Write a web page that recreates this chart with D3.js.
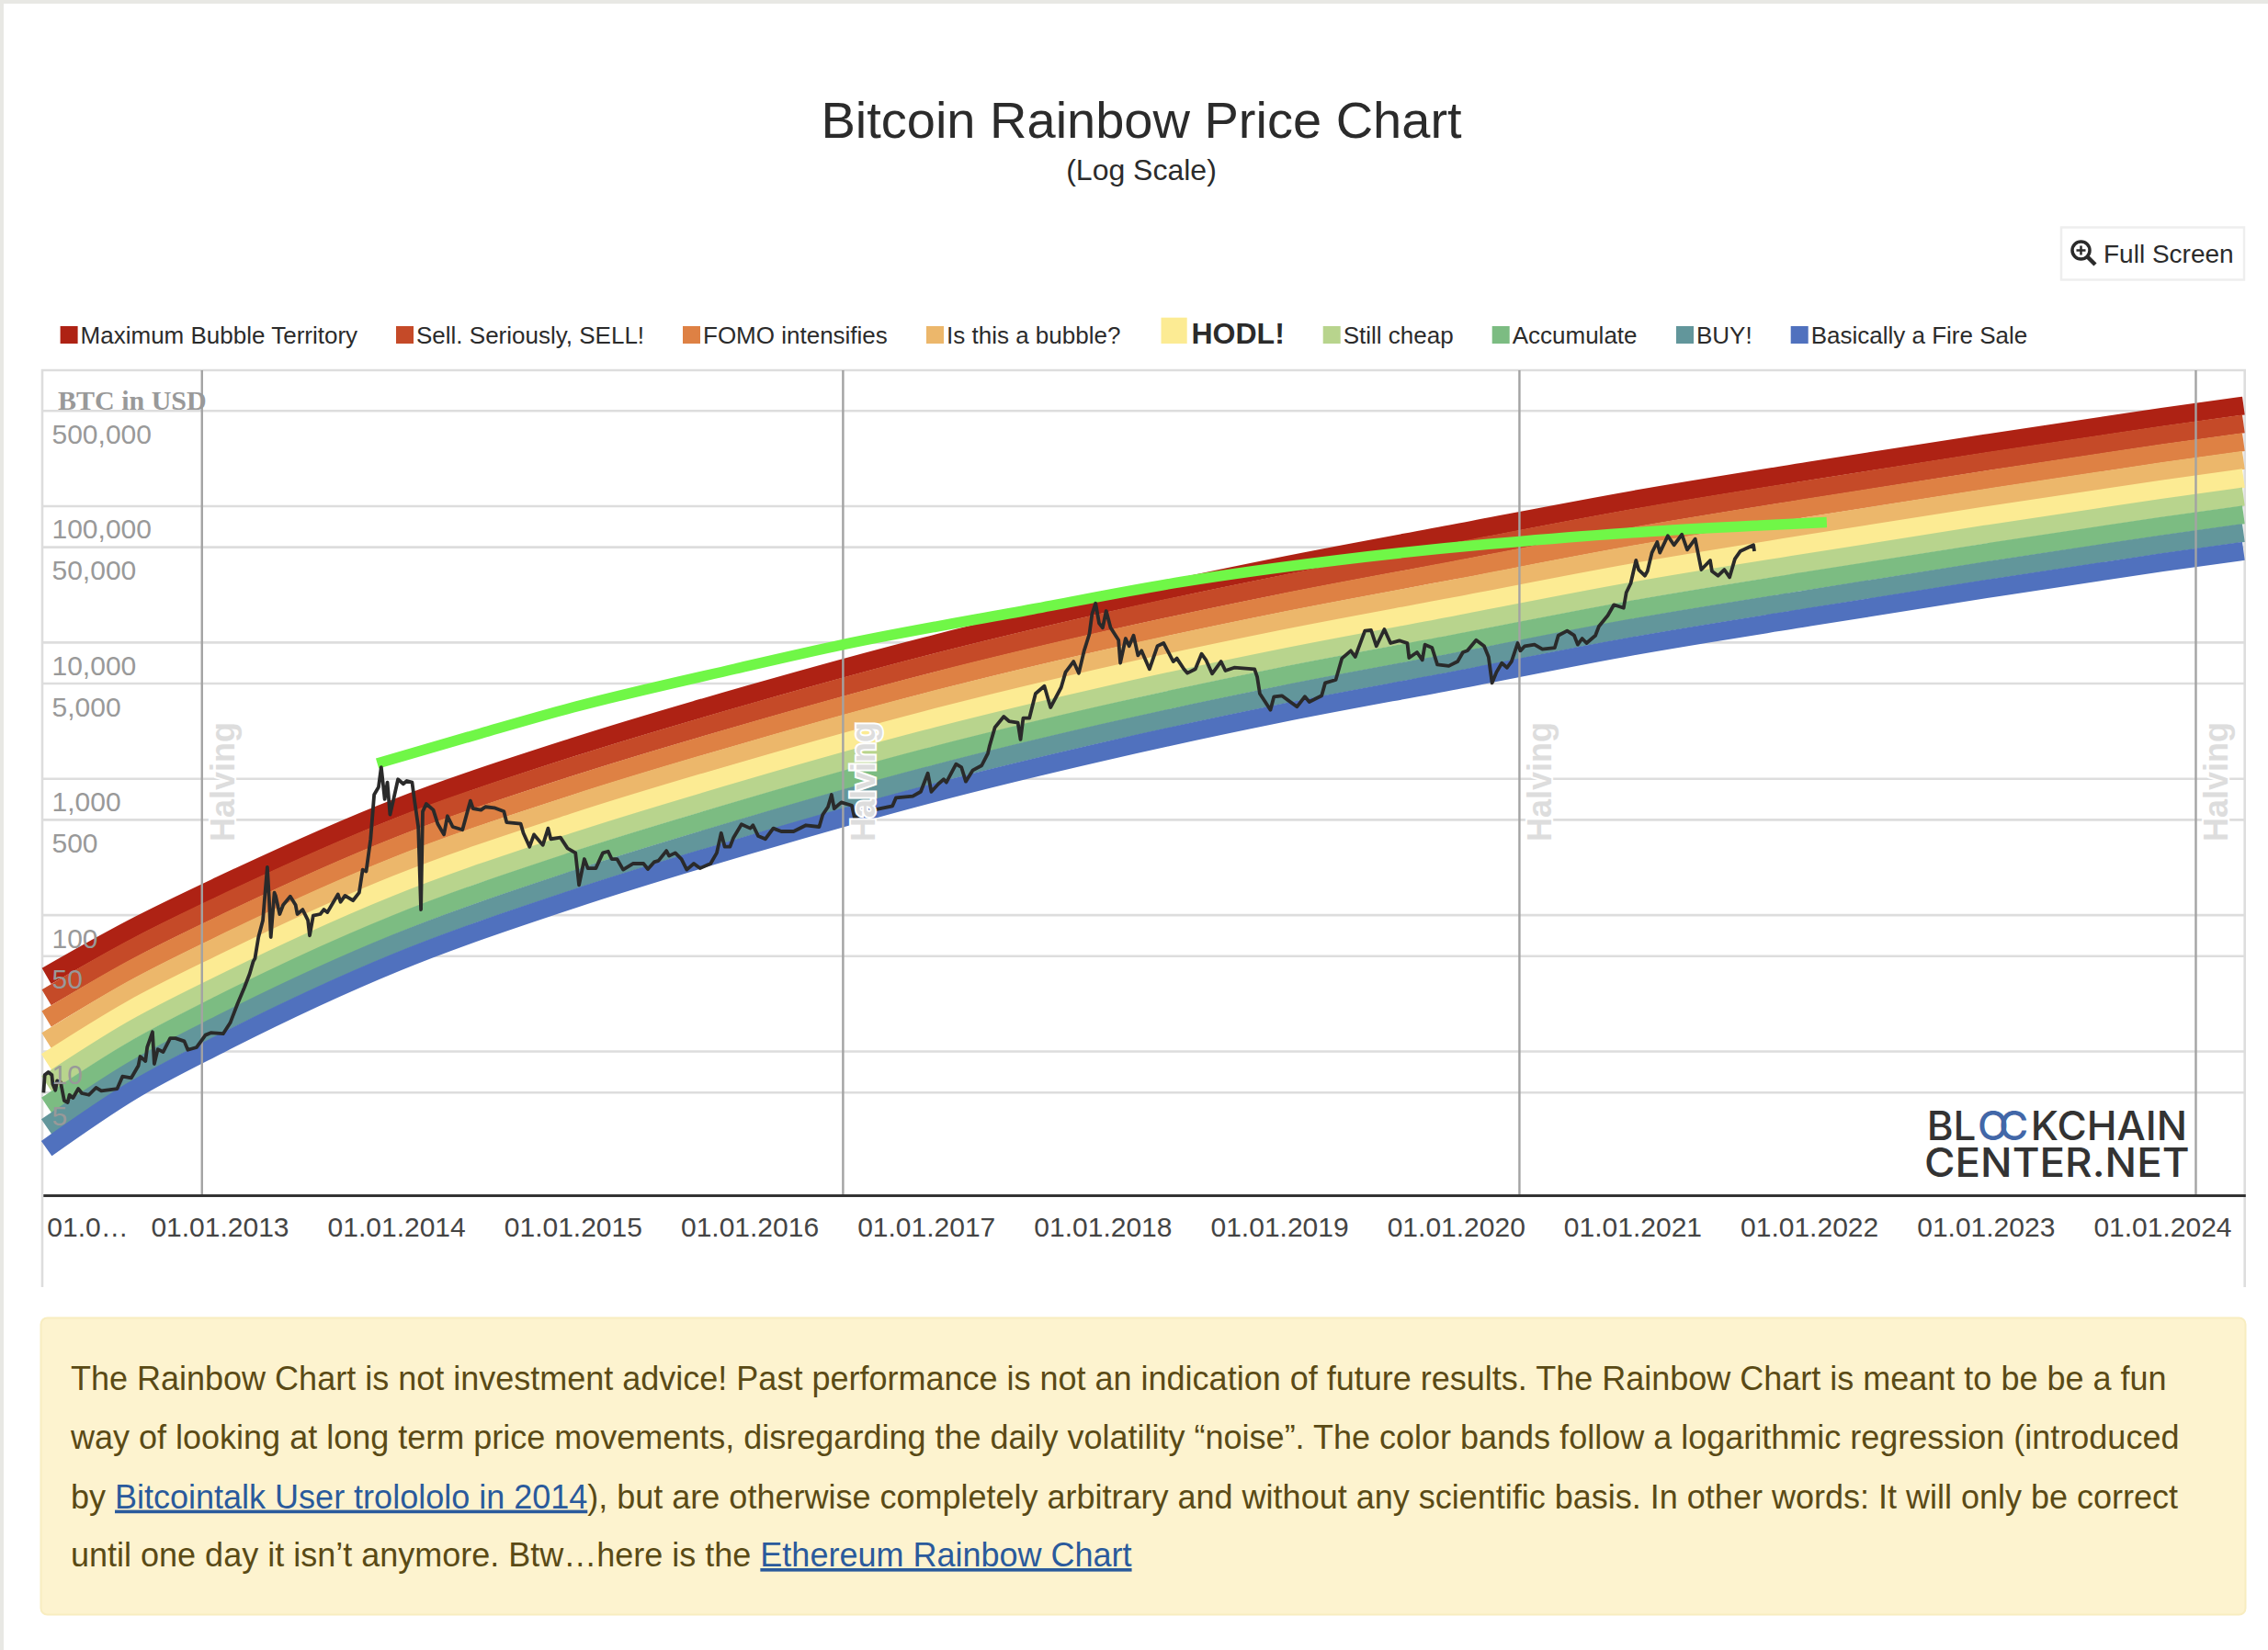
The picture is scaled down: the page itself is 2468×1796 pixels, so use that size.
<!DOCTYPE html>
<html>
<head>
<meta charset="utf-8">
<script src="https://cdnjs.cloudflare.com/ajax/libs/d3/7.8.5/d3.min.js"></script>
<style type='text/css'>
body {
  margin: 0;
  background: #fff;
}
svg {
  display: block;
  font-family: "Liberation Sans", Arial, sans-serif;
}
.grid line {
  stroke: #ddd;
  stroke-width: 2.6;
}
.grid path, .ylabels path, .ylabels line, .xaxis line {
  display: none;
}
.ylabels text {
  fill: #999;
  font-size: 30px;
  text-anchor: start;
}
.xaxis path {
  stroke: #333;
  stroke-width: 3;
}
.xaxis text {
  fill: #444;
  font-size: 30px;
}
.band, .ath, .price {
  fill: none;
}
.price {
  stroke: #2a2a2a;
  stroke-width: 3.8;
  stroke-linejoin: round;
}
.halving-line {
  stroke: #a3a3a3;
  stroke-width: 2.4;
}
.halving-label {
  fill: #ddd;
  font-size: 36px;
  font-weight: bold;
  stroke: #fff;
  stroke-width: 4;
  paint-order: stroke;
}
.legend text {
  fill: #2b2b2b;
  font-size: 26px;
}
.note text {
  fill: #5a4a15;
  font-size: 36px;
}
.note .link {
  fill: #2a5a9c;
  text-decoration: underline;
}
</style>
</head>
<body>
<div id="plot"></div>
<script type='text/javascript'>
var width = 2468,
    height = 1796;

// legend / bands, top to bottom
var bandNames = ["Maximum Bubble Territory", "Sell. Seriously, SELL!", "FOMO intensifies", "Is this a bubble?", "HODL!", "Still cheap", "Accumulate", "BUY!", "Basically a Fire Sale"];
var bandColors = ["#ae2214", "#c54a28", "#de8144", "#ecb76b", "#fceb93", "#b8d48d", "#7cbc82", "#62969b", "#5071be"];

// centre of each band in USD
var bandYears = [2012.02, 2012.5, 2013, 2014, 2015, 2016, 2017, 2018, 2019, 2020, 2021, 2022, 2023, 2024, 2024.46];
var maximumBubble = [35.5, 78.7, 163, 606, 1692, 4124, 9314, 19030, 35760, 62910, 110100, 179700, 286400, 447200, 541200];
var sellSeriously = [24.7, 55.9, 117, 438, 1227, 3002, 6804, 13930, 26220, 46120, 80860, 132000, 210600, 329000, 398200];
var fomoIntensifies = [17.2, 39.6, 83.4, 316, 890, 2186, 4970, 10190, 19220, 33820, 59390, 96960, 154800, 242100, 292900];
var isThisABubble = [11.9, 28.1, 59.7, 228, 646, 1592, 3633, 7463, 14090, 24790, 43620, 71220, 113800, 178100, 215500];
var hodl = [8.29, 20, 42.7, 165, 469, 1159, 2654, 5462, 10330, 18180, 32040, 52310, 83700, 131000, 158600];
var stillCheap = [5.76, 14.2, 30.6, 119, 340, 844, 1939, 3998, 7575, 13330, 23530, 38420, 61520, 96380, 116700];
var accumulate = [4.0, 10, 21.9, 85.8, 247, 614, 1417, 2926, 5554, 9770, 17280, 28220, 45230, 70910, 85840];
var buy = [2.78, 7.13, 15.7, 61.9, 179, 447, 1035, 2143, 4072, 7165, 12700, 20730, 33250, 52170, 63140];
var fireSale = [1.93, 5.06, 11.2, 44.7, 130, 326, 756, 1569, 2985, 5253, 9326, 15230, 24440, 38380, 46450];
var bandValues = [maximumBubble, sellSeriously, fomoIntensifies, isThisABubble, hodl, stillCheap, accumulate, buy, fireSale];

// BTC price
var priceYears = [2012.003, 2012.01, 2012.03, 2012.05, 2012.055, 2012.07, 2012.08, 2012.10, 2012.12, 2012.14, 2012.15, 2012.17, 2012.20, 2012.22, 2012.26, 2012.30, 2012.33, 2012.38, 2012.42, 2012.45, 2012.50, 2012.54, 2012.55, 2012.58, 2012.59, 2012.62, 2012.63, 2012.65, 2012.68, 2012.72, 2012.75, 2012.80, 2012.82, 2012.87, 2012.92, 2012.95, 2013.02, 2013.06, 2013.10, 2013.14, 2013.17, 2013.19, 2013.20, 2013.22, 2013.245, 2013.257, 2013.27, 2013.28, 2013.29, 2013.31, 2013.317, 2013.34, 2013.36, 2013.40, 2013.43, 2013.44, 2013.47, 2013.50, 2013.51, 2013.53, 2013.57, 2013.59, 2013.61, 2013.67, 2013.685, 2013.71, 2013.755, 2013.79, 2013.81, 2013.83, 2013.855, 2013.875, 2013.90, 2013.915, 2013.935, 2013.95, 2013.965, 2013.985, 2014.01, 2014.04, 2014.06, 2014.09, 2014.105, 2014.125, 2014.13, 2014.14, 2014.15, 2014.17, 2014.21, 2014.235, 2014.27, 2014.29, 2014.32, 2014.375, 2014.42, 2014.435, 2014.48, 2014.505, 2014.555, 2014.61, 2014.625, 2014.705, 2014.72, 2014.755, 2014.78, 2014.83, 2014.86, 2014.875, 2014.93, 2014.97, 2015.015, 2015.035, 2015.065, 2015.085, 2015.13, 2015.17, 2015.20, 2015.22, 2015.25, 2015.285, 2015.34, 2015.40, 2015.425, 2015.46, 2015.485, 2015.53, 2015.545, 2015.58, 2015.615, 2015.645, 2015.685, 2015.72, 2015.78, 2015.815, 2015.84, 2015.86, 2015.89, 2015.91, 2015.955, 2016.005, 2016.02, 2016.05, 2016.09, 2016.135, 2016.18, 2016.25, 2016.32, 2016.395, 2016.415, 2016.445, 2016.465, 2016.48, 2016.52, 2016.58, 2016.595, 2016.715, 2016.81, 2016.83, 2016.925, 2016.97, 2017.01, 2017.03, 2017.07, 2017.10, 2017.115, 2017.17, 2017.20, 2017.225, 2017.265, 2017.315, 2017.35, 2017.36, 2017.39, 2017.44, 2017.47, 2017.52, 2017.535, 2017.55, 2017.585, 2017.62, 2017.67, 2017.705, 2017.765, 2017.79, 2017.835, 2017.865, 2017.895, 2017.925, 2017.94, 2017.96, 2017.98, 2018.0, 2018.02, 2018.045, 2018.09, 2018.10, 2018.13, 2018.15, 2018.175, 2018.2, 2018.22, 2018.265, 2018.31, 2018.345, 2018.40, 2018.42, 2018.46, 2018.48, 2018.525, 2018.56, 2018.585, 2018.62, 2018.67, 2018.695, 2018.745, 2018.86, 2018.875, 2018.89, 2018.95, 2018.97, 2019.015, 2019.10, 2019.145, 2019.17, 2019.24, 2019.26, 2019.32, 2019.355, 2019.405, 2019.43, 2019.485, 2019.52, 2019.55, 2019.595, 2019.63, 2019.68, 2019.725, 2019.735, 2019.78, 2019.81, 2019.825, 2019.865, 2019.895, 2019.96, 2020.01, 2020.04, 2020.065, 2020.115, 2020.16, 2020.185, 2020.205, 2020.23, 2020.26, 2020.29, 2020.315, 2020.35, 2020.365, 2020.39, 2020.445, 2020.49, 2020.56, 2020.58, 2020.63, 2020.67, 2020.69, 2020.715, 2020.74, 2020.79, 2020.81, 2020.86, 2020.895, 2020.95, 2020.965, 2020.99, 2021.02, 2021.035, 2021.07, 2021.085, 2021.11, 2021.14, 2021.155, 2021.20, 2021.235, 2021.28, 2021.31, 2021.355, 2021.39, 2021.44, 2021.45, 2021.485, 2021.52, 2021.55, 2021.58, 2021.61, 2021.685, 2021.69];
var priceValues = [4.95, 6.68, 7.0, 6.68, 5.72, 5.16, 6.05, 5.9, 4.33, 4.2, 4.77, 4.53, 5.29, 4.9, 4.77, 5.38, 5.1, 5.2, 5.29, 6.51, 6.35, 7.81, 9.11, 8.43, 10.65, 13.8, 8.05, 10.3, 9.85, 12.4, 12.4, 11.8, 10.2, 10.65, 13.1, 13.6, 13.4, 16.1, 22, 29.2, 36.8, 45.3, 47.7, 68.5, 91, 141, 223, 134, 68.5, 145, 138, 101, 118, 136, 118, 101, 109, 91, 70.4, 98.4, 101, 109, 104, 141, 124, 138, 127, 145, 214, 208, 359, 759, 863, 1208, 703, 934, 542, 703, 984, 910, 958, 934, 667, 441, 277, 109, 571, 650, 586, 464, 387, 529, 441, 419, 684, 601, 586, 618, 608, 571, 476, 464, 397, 315, 387, 324, 430, 359, 368, 307, 284, 165, 256, 219, 219, 284, 291, 256, 256, 214, 237, 237, 216, 243, 249, 294, 270, 284, 256, 214, 237, 219, 237, 284, 397, 315, 315, 368, 460, 430, 453, 377, 359, 430, 408, 408, 453, 441, 542, 618, 759, 601, 667, 632, 515, 592, 627, 721, 739, 798, 1089, 798, 910, 984, 934, 1273, 1208, 948, 1148, 1242, 1525, 1734, 2367, 2838, 2626, 2558, 1927, 2765, 2765, 4185, 4755, 3312, 4645, 6010, 7196, 5915, 8630, 11460, 16060, 19230, 13740, 12730, 16900, 12730, 10330, 7010, 10610, 9330, 11170, 7990, 8630, 6330, 9330, 9820, 7196, 7590, 6330, 5915, 6330, 8190, 7390, 5860, 7196, 6160, 6490, 6330, 5560, 4185, 3180, 3975, 4035, 3350, 3975, 3640, 4035, 5010, 5280, 7590, 8630, 7780, 12080, 12200, 9330, 12390, 9820, 10240, 9820, 7660, 8410, 7390, 9570, 9080, 6840, 6670, 7196, 8410, 8630, 10330, 9330, 7780, 5010, 6010, 7010, 6490, 7196, 9820, 8630, 9330, 9570, 8850, 9080, 11170, 12080, 11170, 9570, 10610, 9820, 11170, 13030, 15630, 18750, 17780, 23060, 26910, 39700, 33960, 30620, 33110, 45200, 54100, 45200, 60100, 51400, 61500, 47500, 57000, 33960, 39700, 33110, 30620, 33960, 29850, 40700, 46300, 51400, 46300];

// bright green line over the peaks
var athYears = [2013.893, 2014.476, 2015.0, 2015.92, 2016.53, 2017.605, 2018.45, 2019.32, 2020.185, 2020.36, 2021.12, 2021.745, 2022.1];
var athValues = [1286, 2133, 3312, 6360, 9570, 17430, 27660, 39700, 52200, 54600, 64900, 71900, 75700];

var halvingYears = [2012.90, 2016.53, 2020.36, 2024.19];
var yTicks = [500000, 100000, 50000, 10000, 5000, 1000, 500, 100, 50, 10, 5];
var xTicks = [2012, 2013, 2014, 2015, 2016, 2017, 2018, 2019, 2020, 2021, 2022, 2023, 2024];

var noteLines = [
  [{t: "The Rainbow Chart is not investment advice! Past performance is not an indication of future results. The Rainbow Chart is meant to be be a fun"}],
  [{t: "way of looking at long term price movements, disregarding the daily volatility \u201cnoise\u201d. The color bands follow a logarithmic regression (introduced"}],
  [{t: "by "}, {t: "Bitcointalk User trolololo in 2014", link: true}, {t: "), but are otherwise completely arbitrary and without any scientific basis. In other words: It will only be correct"}],
  [{t: "until one day it isn\u2019t anymore. Btw\u2026here is the "}, {t: "Ethereum Rainbow Chart", link: true}]
];

var svg = d3.select("div#plot").append("svg")
    .attr("width", width)
    .attr("height", height);

// page edge
svg.append("rect").attr("width", width).attr("height", 4).attr("fill", "#e8e8e4");
svg.append("rect").attr("width", 4).attr("height", height).attr("fill", "#e8e8e4");

var plotLeft = 46, plotRight = 2442.7, plotTop = 403, plotBottom = 1301;

var xsc = d3.scaleLinear().domain([2012, 2024.47]).range([46.8, 2443.3]),
    ysc = d3.scaleLog().domain([5, 500000]).range([1188.7, 446.7]);

// title
svg.append("text").attr("x", 1242).attr("y", 150).attr("text-anchor", "middle")
    .attr("font-size", 56).attr("fill", "#2b2b2b").text("Bitcoin Rainbow Price Chart");
svg.append("text").attr("x", 1242).attr("y", 196).attr("text-anchor", "middle")
    .attr("font-size", 32).attr("fill", "#2b2b2b").text("(Log Scale)");

// full screen button
var btn = svg.append("g");
btn.append("rect").attr("x", 2243).attr("y", 247.5).attr("width", 199).attr("height", 57)
    .attr("fill", "#fff").attr("stroke", "#eee").attr("stroke-width", 2.5);
btn.append("circle").attr("cx", 2264.5).attr("cy", 272.5).attr("r", 9.5)
    .attr("fill", "none").attr("stroke", "#2b2b2b").attr("stroke-width", 3.5);
btn.append("path").attr("d", "M2271.5,279.5L2280,288").attr("stroke", "#2b2b2b").attr("stroke-width", 4.5);
btn.append("path").attr("d", "M2259.5,272.5H2269.5M2264.5,267.5V277.5").attr("stroke", "#2b2b2b").attr("stroke-width", 2.5);
btn.append("text").attr("x", 2289).attr("y", 285.5).attr("font-size", 28).attr("fill", "#2b2b2b").text("Full Screen");

// legend
var legendSwatchX = [65.6, 431, 743, 1008, 1263.5, 1439.7, 1623.7, 1824, 1948.7];
var legend = svg.append("g").attr("class", "legend");
bandNames.forEach(function(name, i) {
  var big = name === "HODL!";
  legend.append("rect")
      .attr("x", legendSwatchX[i]).attr("y", big ? 345.7 : 355)
      .attr("width", big ? 28.2 : 19).attr("height", big ? 28.3 : 19)
      .attr("fill", bandColors[i]);
  legend.append("text")
      .attr("x", legendSwatchX[i] + (big ? 33 : 22)).attr("y", 374)
      .style("font-size", big ? "32px" : null)
      .attr("font-weight", big ? "bold" : null)
      .text(name);
});

// frame
svg.append("path")
    .attr("d", "M" + plotLeft + ",1401V" + plotTop + "H" + plotRight + "V1401")
    .attr("fill", "none").attr("stroke", "#ddd").attr("stroke-width", 2.6);

// grid
svg.append("g").attr("class", "grid")
    .attr("transform", "translate(" + plotLeft + ",0)")
    .call(d3.axisRight(ysc).tickValues(yTicks).tickSize(plotRight - plotLeft).tickFormat(""));

// rainbow, each band one thick line
var bandLine = d3.line()
    .x(function(d) { return xsc(d[0]); })
    .y(function(d) { return ysc(d[1]); })
    .curve(d3.curveMonotoneX);

bandValues.forEach(function(vals, i) {
  svg.append("path")
      .datum(vals.map(function(v, k) { return [bandYears[k], v]; }))
      .attr("class", "band")
      .attr("stroke", bandColors[i])
      .attr("stroke-width", i === 4 ? 21 : 20)
      .attr("d", bandLine);
});

// halving lines
svg.selectAll("line.halving-line").data(halvingYears).enter().append("line")
    .attr("class", "halving-line")
    .attr("x1", xsc).attr("x2", xsc)
    .attr("y1", plotTop).attr("y2", plotBottom);

// green line
svg.append("path")
    .datum(athValues.map(function(v, k) { return [athYears[k], v]; }))
    .attr("class", "ath")
    .attr("stroke", "#70f747")
    .attr("stroke-width", 11.5)
    .attr("d", bandLine);

// price
var priceLine = d3.line()
    .x(function(d) { return xsc(d[0]); })
    .y(function(d) { return ysc(d[1]); });
svg.append("path")
    .datum(priceValues.map(function(v, k) { return [priceYears[k], v]; }))
    .attr("class", "price")
    .attr("d", priceLine);

// halving labels
svg.selectAll("text.halving-label").data(halvingYears).enter().append("text")
    .attr("class", "halving-label")
    .attr("transform", function(d) { return "translate(" + (xsc(d) + 35) + ",916) rotate(-90)"; })
    .text("Halving");

// y labels sit below their grid line
var ylab = svg.append("g").attr("class", "ylabels")
    .attr("transform", "translate(" + plotLeft + ",0)")
    .call(d3.axisRight(ysc).tickValues(yTicks).tickSize(0).tickPadding(10.5).tickFormat(d3.format(",")));
ylab.selectAll("text").attr("dy", 35.5);

svg.append("text").attr("x", 63).attr("y", 445.5)
    .attr("font-family", "Liberation Serif").attr("font-weight", "bold")
    .attr("font-size", 30).attr("fill", "#999").text("BTC in USD");

// x axis
var xaxis = svg.append("g").attr("class", "xaxis")
    .attr("transform", "translate(0," + plotBottom + ")")
    .call(d3.axisBottom(xsc).tickValues(xTicks).tickSizeOuter(0).tickSize(0).tickPadding(0)
      .tickFormat(function(d) { return d === 2012 ? "01.0\u2026" : "01.01." + d; }));
xaxis.selectAll("text").attr("y", 44.7).attr("dy", 0);
xaxis.selectAll("text").filter(function(d) { return d === 2012; })
    .attr("text-anchor", "start").attr("x", 4);

// logo
var logo = svg.append("g").attr("fill", "#333").attr("font-family", "Inter").attr("font-weight", 500).attr("font-size", 44);
var logo1 = logo.append("text").attr("y", 1240.7);
logo1.append("tspan").attr("x", 2096.7).text("BL");
logo1.append("tspan").attr("x", 2152).attr("fill", "#4267a8").text("O");
logo1.append("tspan").attr("x", 2175).attr("fill", "#4267a8").text("C");
logo1.append("tspan").attr("x", 2209.8).text("KCHAIN");
logo.append("text").attr("x", 2094).attr("y", 1280.7)
    .attr("textLength", 288.6).attr("lengthAdjust", "spacingAndGlyphs").text("CENTER.NET");

// note box
var note = svg.append("g").attr("class", "note");
note.append("rect").attr("x", 44.5).attr("y", 1434.5).attr("width", 2399).attr("height", 323).attr("rx", 7)
    .attr("fill", "#fdf3cf").attr("stroke", "#f8edc0").attr("stroke-width", 2);
var noteBase = [1512.6, 1577, 1641.6, 1705];
noteLines.forEach(function(line, i) {
  var t = note.append("text").attr("x", 77).attr("y", noteBase[i]);
  line.forEach(function(part) {
    t.append("tspan").attr("class", part.link ? "link" : null).text(part.t);
  });
});
</script>
</body>
</html>
